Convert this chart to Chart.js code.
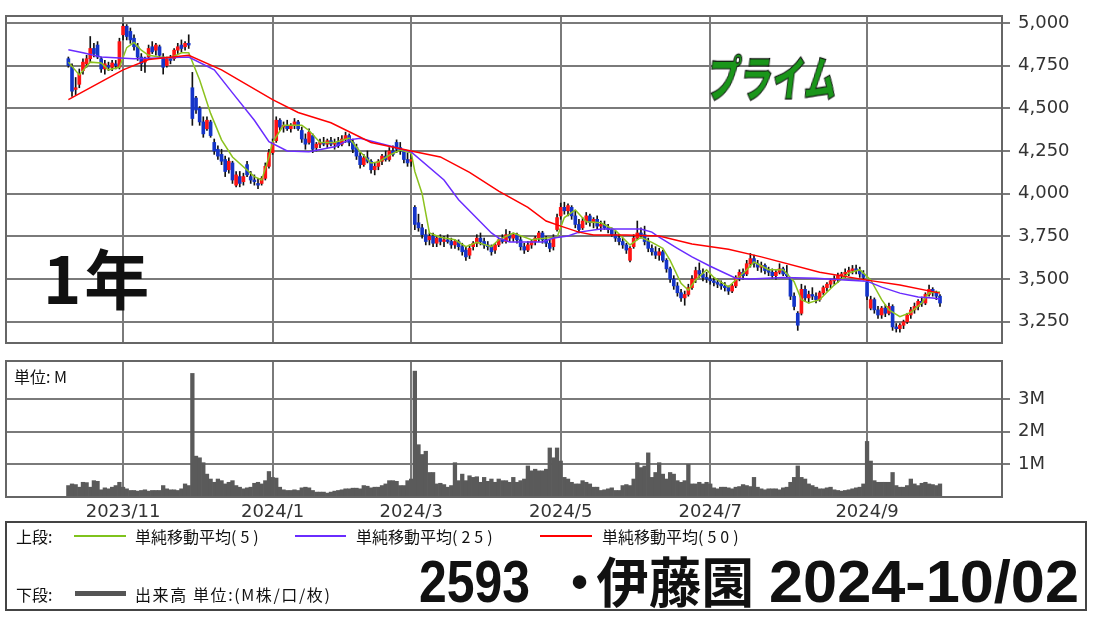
<!DOCTYPE html>
<html lang="ja">
<head>
<meta charset="utf-8">
<title>2593 伊藤園</title>
<script src="https://cdn.jsdelivr.net/npm/chart.js@4.4.1/dist/chart.umd.min.js"></script>
<style>
  body { margin: 0; background: #fff; width: 1100px; height: 618px; overflow: hidden; position: relative; font-family: "Noto Sans CJK JP", sans-serif; color: #111; }
  .abs { position: absolute; white-space: nowrap; line-height: 1; }
  #priceWrap { position: absolute; left: 0; top: 0; width: 1100px; height: 350px; }
  #volWrap { position: absolute; left: 0; top: 350px; width: 1100px; height: 172px; }
  .legendBox { position: absolute; left: 5px; top: 521px; width: 1078px; height: 86px; border: 2px solid #444; }
  .small { font-size: 16px; }
  .par { letter-spacing: 4px; }
  .swatch { position: absolute; height: 2px; }
  .big { font-weight: bold; transform-origin: left center; }
</style>
</head>
<body>
<div id="priceWrap"><canvas id="priceChart" width="1100" height="350"></canvas></div>
<div id="volWrap"><canvas id="volChart" width="1100" height="172"></canvas></div>

<div class="abs" style="left:43px; top:244px; font-size:65px; font-weight:bold; letter-spacing:3px;">1年</div>
<div class="abs" style="left:708px; top:52px; font-size:48px; font-weight:900; color:#1a961a; -webkit-text-stroke:1.2px #111; transform:scaleX(0.68) skewX(-10deg); transform-origin:left center;">プライム</div>
<div class="abs small" style="left:14px; top:368px;">単位: M</div>

<div class="legendBox"></div>
<div class="abs small" style="left:16px; top:528px;">上段:</div>
<div class="swatch" style="left:74px; width:52px; top:535px; background:#7fc31c;"></div>
<div class="abs small" style="left:135px; top:528px;">単純移動平均<span class="par">(5)</span></div>
<div class="swatch" style="left:295px; width:51px; top:535px; background:#6a2cff;"></div>
<div class="abs small" style="left:356px; top:528px;">単純移動平均<span class="par">(25)</span></div>
<div class="swatch" style="left:540px; width:52px; top:535px; background:#ff0000;"></div>
<div class="abs small" style="left:602px; top:528px;">単純移動平均<span class="par">(50)</span></div>
<div class="abs small" style="left:16px; top:586px;">下段:</div>
<div class="swatch" style="left:75px; width:51px; top:591px; height:5px; background:#555;"></div>
<div class="abs small" style="left:135px; top:586px; letter-spacing:1.6px;">出来高 単位:(M株/口/枚)</div>

<div id="code" class="abs big" style="left:419px; top:552px; font-size:60px; font-family:'Liberation Sans', sans-serif;">2593</div>
<div id="name" class="abs big" style="left:567px; top:553px; font-size:54px;"><span style="display:inline-block; width:30px;"><span style="margin-left:-14px;">・</span></span>伊藤園</div>
<div id="date" class="abs big" style="left:769px; top:552px; font-size:60px; font-family:'Liberation Sans', sans-serif;">2024-10/02</div>

<script>
// Month grid lines (bar index of first trading day) and their labels
const monthIdx = [15, 56, 94, 135, 176, 219];
const monthLabels = ['2023/11', '2024/1', '2024/3', '2024/5', '2024/7', '2024/9'];
const priceTicks = [3250, 3500, 3750, 4000, 4250, 4500, 4750, 5000];
const volTicks = [1, 2, 3];

// Daily candles, 2023/10/11 .. 2024/10/02 (240 trading days)
const opens = [
    4790, 4740, 4610, 4640, 4720, 4760, 4790, 4850, 4870, 4790,
    4730, 4750, 4740, 4760, 4740, 4930, 4980, 4950, 4910, 4860,
    4800, 4770, 4800, 4860, 4840, 4860, 4800, 4750, 4790, 4790,
    4840, 4870, 4860, 4880, 4620, 4560, 4500, 4420, 4380, 4420,
    4300, 4260, 4230, 4200, 4140, 4180, 4050, 4100, 4070, 4170,
    4100, 4080, 4060, 4060, 4090, 4160, 4240, 4310, 4430, 4390,
    4400, 4380, 4400, 4420, 4370, 4320, 4300, 4340, 4270, 4290,
    4300, 4290, 4310, 4290, 4300, 4290, 4320, 4340, 4300, 4270,
    4220, 4170, 4210, 4190, 4140, 4160, 4190, 4220, 4200, 4250,
    4300, 4270, 4250, 4200, 4190, 3920, 3830, 3800, 3760, 3730,
    3750, 3710, 3740, 3720, 3730, 3720, 3700, 3720, 3690, 3670,
    3640, 3690, 3710, 3740, 3720, 3700, 3690, 3670, 3700, 3730,
    3720, 3760, 3740, 3760, 3730, 3690, 3670, 3700, 3720, 3740,
    3770, 3730, 3710, 3690, 3790, 3870, 3920, 3900, 3920, 3870,
    3820, 3800, 3840, 3870, 3830, 3850, 3810, 3820, 3800, 3790,
    3760, 3740, 3720, 3700, 3610, 3690, 3740, 3770, 3760, 3720,
    3680, 3660, 3640, 3660, 3610, 3560, 3500, 3460, 3420, 3390,
    3410, 3450, 3500, 3550, 3530, 3510, 3500, 3490, 3480, 3470,
    3460, 3450, 3430, 3460, 3510, 3540, 3530, 3590, 3620, 3590,
    3570, 3580, 3550, 3540, 3520, 3540, 3560, 3530, 3500, 3400,
    3300, 3300, 3440, 3390, 3410, 3400, 3380, 3420, 3450, 3470,
    3490, 3500, 3520, 3530, 3540, 3550, 3560, 3550, 3530, 3480,
    3330, 3380, 3320, 3290, 3330, 3300, 3340, 3220, 3210, 3230,
    3250, 3290, 3320, 3340, 3370, 3360, 3410, 3440, 3420, 3400
];
const highs = [
    4800, 4760, 4680, 4730, 4790, 4810, 4920, 4880, 4890, 4800,
    4780, 4770, 4780, 4780, 4910, 4995, 4990, 4970, 4930, 4880,
    4820, 4800, 4870, 4890, 4880, 4870, 4820, 4800, 4810, 4850,
    4880, 4900, 4890, 4930, 4710, 4570, 4510, 4450, 4450, 4430,
    4320, 4280, 4260, 4220, 4210, 4190, 4130, 4130, 4120, 4190,
    4130, 4110, 4090, 4100, 4180, 4260, 4320, 4450, 4440, 4420,
    4430, 4410, 4440, 4430, 4390, 4350, 4380, 4350, 4300, 4320,
    4330, 4320, 4330, 4320, 4330, 4340, 4360, 4350, 4320, 4290,
    4240, 4230, 4250, 4200, 4180, 4200, 4230, 4250, 4270, 4280,
    4315, 4300, 4260, 4240, 4230, 3930, 3880, 3820, 3790, 3770,
    3770, 3750, 3760, 3750, 3760, 3740, 3730, 3730, 3710, 3690,
    3700, 3720, 3760, 3770, 3740, 3720, 3700, 3710, 3740, 3760,
    3790, 3780, 3770, 3770, 3750, 3710, 3720, 3730, 3750, 3780,
    3780, 3750, 3730, 3760, 3880, 3945, 3950, 3940, 3930, 3900,
    3850, 3860, 3890, 3880, 3860, 3870, 3840, 3840, 3820, 3800,
    3780, 3760, 3740, 3710, 3690, 3760, 3840, 3800, 3810, 3740,
    3700, 3690, 3680, 3670, 3620, 3570, 3520, 3480, 3440, 3430,
    3470, 3520, 3570, 3595, 3560, 3540, 3520, 3510, 3500, 3490,
    3480, 3460, 3470, 3520, 3555, 3560, 3610, 3650, 3640, 3610,
    3600, 3590, 3570, 3560, 3550, 3590, 3570, 3580, 3510, 3420,
    3310, 3470, 3460, 3430, 3450, 3420, 3430, 3460, 3480, 3500,
    3520, 3535, 3540, 3560, 3570, 3580, 3582, 3570, 3550, 3490,
    3400, 3390, 3340, 3340, 3350, 3360, 3350, 3240, 3240, 3260,
    3300, 3335, 3360, 3380, 3395, 3420, 3465, 3450, 3430, 3410
];
const lows = [
    4740, 4570, 4580, 4620, 4700, 4740, 4770, 4800, 4790, 4710,
    4700, 4720, 4720, 4730, 4730, 4900, 4900, 4880, 4840, 4780,
    4720, 4710, 4790, 4820, 4810, 4800, 4700, 4740, 4760, 4780,
    4820, 4830, 4840, 4850, 4400, 4470, 4400, 4330, 4370, 4330,
    4230, 4200, 4170, 4100, 4120, 4060, 4040, 4040, 4050, 4100,
    4060, 4050, 4030, 4050, 4080, 4150, 4230, 4300, 4370, 4360,
    4370, 4360, 4380, 4370, 4300, 4260, 4290, 4240, 4250, 4270,
    4280, 4270, 4280, 4260, 4270, 4280, 4300, 4280, 4240, 4200,
    4150, 4160, 4180, 4120, 4110, 4140, 4170, 4190, 4190, 4220,
    4240, 4230, 4180, 4160, 4160, 3790, 3780, 3740, 3700, 3700,
    3690, 3690, 3700, 3690, 3710, 3680, 3680, 3670, 3640, 3610,
    3620, 3670, 3690, 3700, 3680, 3670, 3640, 3650, 3690, 3710,
    3710, 3720, 3720, 3710, 3670, 3650, 3660, 3680, 3700, 3720,
    3710, 3690, 3660, 3670, 3780, 3850, 3880, 3870, 3850, 3800,
    3770, 3790, 3820, 3810, 3800, 3790, 3780, 3790, 3770, 3750,
    3720, 3700, 3680, 3650, 3600, 3680, 3730, 3740, 3700, 3660,
    3640, 3620, 3610, 3600, 3540, 3480, 3440, 3400, 3370, 3347,
    3400, 3440, 3480, 3510, 3490, 3480, 3470, 3460, 3450, 3440,
    3430, 3410, 3420, 3450, 3490, 3500, 3520, 3570, 3570, 3550,
    3540, 3530, 3520, 3505, 3500, 3530, 3520, 3510, 3380, 3320,
    3200, 3290, 3370, 3360, 3380, 3360, 3370, 3410, 3430, 3450,
    3470, 3480, 3500, 3510, 3520, 3530, 3530, 3510, 3495, 3380,
    3320, 3300, 3270, 3270, 3280, 3290, 3200, 3190, 3190, 3210,
    3240, 3270, 3300, 3320, 3340, 3350, 3400, 3400, 3380, 3340
];
const closes = [
    4750, 4600, 4620, 4700, 4770, 4790, 4850, 4820, 4800, 4730,
    4760, 4740, 4765, 4750, 4890, 4980, 4920, 4900, 4860, 4800,
    4760, 4790, 4850, 4830, 4870, 4810, 4740, 4790, 4780, 4840,
    4860, 4850, 4880, 4870, 4440, 4490, 4420, 4350, 4430, 4340,
    4250, 4220, 4190, 4130, 4190, 4080, 4110, 4060, 4100, 4110,
    4080, 4070, 4050, 4090, 4160, 4240, 4300, 4430, 4390, 4400,
    4380, 4400, 4420, 4380, 4320, 4290, 4360, 4260, 4290, 4300,
    4290, 4310, 4290, 4300, 4280, 4320, 4340, 4300, 4260, 4220,
    4170, 4210, 4190, 4140, 4160, 4190, 4220, 4200, 4250, 4230,
    4260, 4250, 4200, 4180, 4200, 3820, 3800, 3760, 3720, 3750,
    3710, 3740, 3720, 3730, 3720, 3700, 3720, 3690, 3660, 3630,
    3680, 3710, 3740, 3720, 3700, 3690, 3660, 3700, 3730, 3720,
    3760, 3740, 3760, 3730, 3690, 3670, 3700, 3720, 3740, 3770,
    3730, 3710, 3680, 3740, 3860, 3920, 3900, 3930, 3870, 3820,
    3790, 3840, 3870, 3830, 3850, 3810, 3820, 3800, 3790, 3760,
    3740, 3720, 3700, 3670, 3680, 3740, 3770, 3760, 3720, 3680,
    3660, 3640, 3660, 3610, 3560, 3500, 3460, 3420, 3390, 3410,
    3450, 3500, 3550, 3530, 3510, 3500, 3490, 3480, 3470, 3460,
    3450, 3430, 3460, 3510, 3540, 3520, 3590, 3620, 3590, 3570,
    3580, 3550, 3540, 3520, 3540, 3560, 3530, 3520, 3400, 3340,
    3230, 3440, 3390, 3410, 3400, 3380, 3420, 3450, 3470, 3490,
    3500, 3520, 3530, 3540, 3550, 3560, 3550, 3530, 3510, 3400,
    3380, 3320, 3290, 3330, 3300, 3340, 3220, 3210, 3230, 3250,
    3290, 3320, 3340, 3370, 3360, 3410, 3440, 3420, 3400, 3360
];

// Volume in millions of shares
const volumes = [
    0.35, 0.4, 0.38, 0.3, 0.45, 0.44, 0.3, 0.5, 0.48, 0.22,
    0.28, 0.25, 0.3, 0.35, 0.45, 0.3, 0.25, 0.2, 0.2, 0.18,
    0.2, 0.22, 0.18, 0.2, 0.2, 0.2, 0.35, 0.25, 0.22, 0.22,
    0.2, 0.25, 0.4, 0.35, 3.78, 1.25, 1.2, 1.05, 0.7, 0.55,
    0.45, 0.55, 0.5, 0.4, 0.45, 0.5, 0.35, 0.3, 0.25, 0.28,
    0.3, 0.42, 0.45, 0.4, 0.5, 0.78, 0.6, 0.58, 0.3, 0.22,
    0.2, 0.2, 0.22, 0.2, 0.28, 0.3, 0.28, 0.2, 0.15, 0.15,
    0.15, 0.12, 0.15, 0.18, 0.2, 0.22, 0.25, 0.25, 0.27, 0.27,
    0.25, 0.35, 0.33, 0.28, 0.3, 0.3, 0.35, 0.4, 0.5, 0.5,
    0.48, 0.35, 0.35, 0.5, 0.55, 3.85, 1.6, 1.3, 1.4, 0.75,
    0.75, 0.4, 0.42, 0.38, 0.3, 0.35, 1.05, 0.5, 0.7, 0.5,
    0.65, 0.6, 0.62, 0.45, 0.6, 0.48, 0.55, 0.45, 0.55, 0.5,
    0.5, 0.45, 0.6, 0.45, 0.5, 0.55, 0.95, 0.8, 0.85, 0.8,
    0.8, 0.85, 1.5, 1.2, 1.5, 1.1, 0.6, 0.55, 0.45, 0.4,
    0.4, 0.5, 0.45, 0.4, 0.3, 0.3, 0.2, 0.22, 0.25, 0.28,
    0.2, 0.2, 0.35, 0.38, 0.35, 0.55, 1.05, 0.9, 0.95, 1.35,
    0.6, 0.75, 1.05, 0.7, 0.55, 0.75, 0.7, 0.5, 0.45, 0.5,
    1.0, 0.4, 0.4, 0.45, 0.4, 0.45, 0.4, 0.28, 0.25, 0.3,
    0.3, 0.28, 0.25, 0.3, 0.32, 0.38, 0.35, 0.32, 0.6, 0.3,
    0.25, 0.22, 0.25, 0.25, 0.25, 0.22, 0.28, 0.3, 0.45, 0.6,
    0.95, 0.6, 0.55, 0.4, 0.35, 0.3, 0.25, 0.25, 0.28, 0.3,
    0.22, 0.2, 0.18, 0.2, 0.22, 0.25, 0.28, 0.3, 0.4, 1.7,
    1.1, 0.5, 0.45, 0.45, 0.45, 0.45, 0.75, 0.35, 0.3, 0.3,
    0.35, 0.55, 0.4, 0.35, 0.42, 0.45, 0.4, 0.38, 0.35, 0.4
];

// Moving averages at these bar indexes
const ma5Idx = [0, 3, 6, 9, 11, 14, 16, 18, 20, 22, 25, 28, 31, 33, 36, 39, 42, 45, 51, 53,
    55, 56, 59, 64, 66, 69, 73, 77, 80, 83, 85, 88, 91, 94, 95, 97, 99, 102, 106, 109,
    112, 116, 118, 122, 127, 131, 134, 136, 139, 142, 146, 150, 154, 157, 160, 163, 165, 168, 170, 172,
    175, 177, 181, 183, 186, 188, 192, 196, 199, 201, 203, 206, 210, 214, 217, 220, 223, 225, 228, 231,
    234, 236, 239];
const ma5Val = [4770, 4695, 4770, 4765, 4725, 4740, 4855, 4885, 4840, 4810, 4800, 4795, 4825, 4825, 4665, 4470, 4315, 4215, 4100, 4080,
    4215, 4300, 4400, 4400, 4370, 4300, 4300, 4325, 4245, 4180, 4185, 4225, 4255, 4240, 4130, 4000, 3770, 3745, 3730, 3690,
    3715, 3690, 3730, 3770, 3730, 3740, 3745, 3860, 3905, 3835, 3830, 3785, 3700, 3745, 3715, 3680, 3610, 3475, 3435, 3495,
    3555, 3510, 3455, 3495, 3555, 3600, 3555, 3555, 3485, 3380, 3360, 3380, 3465, 3535, 3555, 3495, 3380, 3320, 3280, 3305,
    3360, 3420, 3425];
const ma25Idx = [0, 4, 9, 18, 27, 33, 40, 45, 51, 55, 60, 66, 73, 77, 80, 89, 94, 103, 107, 116,
    118, 121, 130, 133, 137, 140, 146, 157, 160, 162, 167, 171, 176, 183, 187, 196, 205, 214, 219, 223,
    228, 233, 237, 239];
const ma25Val = [4842, 4825, 4800, 4790, 4795, 4800, 4725, 4590, 4430, 4305, 4250, 4245, 4275, 4315, 4325, 4275, 4245, 4080, 3965, 3770,
    3740, 3717, 3717, 3740, 3752, 3775, 3793, 3793, 3775, 3745, 3680, 3630, 3575, 3505, 3500, 3510, 3505, 3494, 3488, 3453,
    3418, 3395, 3390, 3383];
const ma50Idx = [0, 15, 22, 33, 42, 56, 63, 72, 83, 94, 102, 110, 118, 126, 131, 135, 140, 144, 153, 162,
    171, 181, 190, 206, 219, 228, 239];
const ma50Val = [4550, 4725, 4785, 4810, 4725, 4550, 4475, 4415, 4300, 4250, 4215, 4125, 4015, 3920, 3840, 3810, 3775, 3758, 3758, 3752,
    3705, 3675, 3630, 3540, 3494, 3465, 3418];

// x range of the panels in bar units (first bar sits at x=68)
const xMin = -17.1;
const xMax = 256.0;

const gridColor = '#7a7a7a';
const tickFont = { family: 'DejaVu Sans', size: 18 };

// Draw a frame around the plot area
const framePlugin = {
    id: 'frame',
    afterDraw(chart) {
        const { ctx, chartArea: a } = chart;
        ctx.save();
        ctx.strokeStyle = '#666';
        ctx.lineWidth = 2;
        ctx.strokeRect(a.left, a.top, a.right - a.left, a.bottom - a.top);
        ctx.restore();
    }
};

function maLine(idx, val, color) {
    return {
        type: 'line',
        data: idx.map((x, k) => ({ x: x, y: val[k] })),
        borderColor: color,
        borderWidth: 1.5,
        pointRadius: 0,
        tension: 0,
        order: 0
    };
}

function createPriceChart() {
    const ctx = document.getElementById('priceChart').getContext('2d');
    const bodyColors = closes.map((c, i) => c >= opens[i] ? '#ff1414' : '#1434c8');

    new Chart(ctx, {
        type: 'bar',
        data: {
            datasets: [
                maLine(ma50Idx, ma50Val, '#ff0000'),
                maLine(ma25Idx, ma25Val, '#6a2cff'),
                maLine(ma5Idx, ma5Val, '#8cc21e'),
                {
                    data: opens.map((o, i) => ({ x: i, y: [o, closes[i]] })),
                    backgroundColor: bodyColors,
                    barThickness: 3,
                    grouped: false,
                    order: 1
                },
                {
                    data: lows.map((l, i) => ({ x: i, y: [l, highs[i]] })),
                    backgroundColor: '#111',
                    barThickness: 1,
                    grouped: false,
                    order: 2
                }
            ]
        },
        options: {
            responsive: false,
            animation: false,
            events: [],
            layout: { padding: { left: 6, top: 16, right: 0, bottom: 7 } },
            plugins: { legend: { display: false }, tooltip: { enabled: false } },
            scales: {
                x: {
                    type: 'linear',
                    min: xMin,
                    max: xMax,
                    offset: false,
                    grid: { color: gridColor, lineWidth: 2, drawTicks: false, offset: false },
                    border: { display: false },
                    ticks: { display: false },
                    afterBuildTicks: scale => { scale.ticks = monthIdx.map(v => ({ value: v })); },
                    afterFit: scale => { scale.height = 0; scale.paddingLeft = 0; scale.paddingRight = 0; }
                },
                y: {
                    position: 'right',
                    min: 3126,
                    max: 5040,
                    grid: { color: gridColor, lineWidth: 2, tickLength: 8 },
                    border: { display: false },
                    ticks: {
                        color: '#333',
                        font: tickFont,
                        padding: 8,
                        callback: v => v.toLocaleString('en-US')
                    },
                    afterBuildTicks: scale => { scale.ticks = priceTicks.map(v => ({ value: v })); },
                    afterFit: scale => { scale.width = 98; scale.paddingTop = 0; scale.paddingBottom = 0; }
                }
            }
        },
        plugins: [framePlugin]
    });
}

function createVolumeChart() {
    const ctx = document.getElementById('volChart').getContext('2d');

    new Chart(ctx, {
        type: 'bar',
        data: {
            datasets: [{
                data: volumes.map((v, i) => ({ x: i, y: v })),
                backgroundColor: '#5a5a5a',
                barPercentage: 1,
                categoryPercentage: 1
            }]
        },
        options: {
            responsive: false,
            animation: false,
            events: [],
            layout: { padding: { left: 6, top: 11, right: 0, bottom: 0 } },
            plugins: { legend: { display: false }, tooltip: { enabled: false } },
            scales: {
                x: {
                    type: 'linear',
                    min: xMin,
                    max: xMax,
                    offset: false,
                    grid: { color: gridColor, lineWidth: 2, drawTicks: false, offset: false },
                    border: { display: false },
                    ticks: {
                        color: '#333',
                        font: tickFont,
                        padding: 5,
                        maxRotation: 0,
                        autoSkip: false,
                        callback: v => monthLabels[monthIdx.indexOf(v)]
                    },
                    afterBuildTicks: scale => { scale.ticks = monthIdx.map(v => ({ value: v })); },
                    afterFit: scale => { scale.height = 25; scale.paddingLeft = 0; scale.paddingRight = 0; }
                },
                y: {
                    position: 'right',
                    min: 0,
                    max: 4.16,
                    grid: { color: gridColor, lineWidth: 2, tickLength: 8 },
                    border: { display: false },
                    ticks: {
                        color: '#333',
                        font: tickFont,
                        padding: 8,
                        callback: v => v + 'M'
                    },
                    afterBuildTicks: scale => { scale.ticks = volTicks.map(v => ({ value: v })); },
                    afterFit: scale => { scale.width = 98; scale.paddingTop = 0; scale.paddingBottom = 0; }
                }
            }
        },
        plugins: [framePlugin]
    });
}

// Squeeze the big title texts to the width they take in the original
function fitText(id, width) {
    const el = document.getElementById(id);
    const w = el.getBoundingClientRect().width;
    el.style.transform = 'scaleX(' + (width / w) + ')';
}

createPriceChart();
createVolumeChart();
fitText('code', 111);
fitText('name', 187);
fitText('date', 310);
</script>
</body>
</html>
